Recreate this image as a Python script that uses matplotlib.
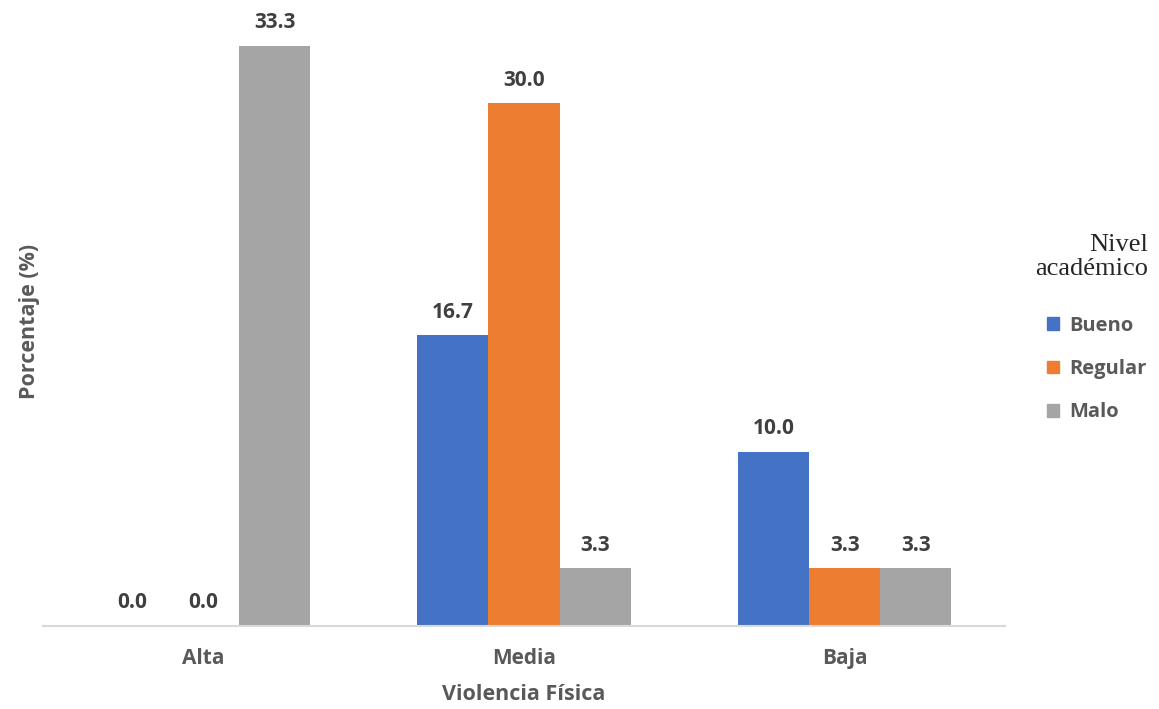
import numpy as np
import matplotlib.pyplot as plt
from matplotlib.patches import Patch

categorias = ['Alta', 'Media', 'Baja']
series = ['Bueno', 'Regular', 'Malo']
bueno = [0.0, 16.7, 10.0]
regular = [0.0, 30.0, 3.3]
malo = [33.3, 3.3, 3.3]
colores = ['#4472C4', '#ED7D31', '#A5A5A5']

plt.rcParams['font.family'] = ['Open Sans', 'DejaVu Sans']

fig = plt.figure(figsize=(11.59, 7.09), dpi=100)
ax = fig.add_axes([0.0371, 0.1171, 0.830, 0.860])

x = np.arange(len(categorias))
w = 0.222
for i, (vals, col) in enumerate(zip([bueno, regular, malo], colores)):
    bars = ax.bar(x + (i - 1) * w, vals, width=w, color=col, label=series[i])
    for b, v in zip(bars, vals):
        ax.annotate(f'{v:.1f}', (b.get_x() + b.get_width() / 2, v),
                    xytext=(0, 9), textcoords='offset points',
                    ha='center', va='bottom', fontsize=15,
                    fontweight='bold', color='#404040')

ax.set_xlim(-0.5, 2.5)
ax.set_ylim(0, 35)
ax.set_xticks(x)
ax.set_xticklabels(categorias, fontsize=15, fontweight='bold', color='#595959')
ax.tick_params(axis='x', length=0, pad=16)
ax.set_yticks([])
for s in ['top', 'right', 'left']:
    ax.spines[s].set_visible(False)
ax.spines['bottom'].set_color('#D9D9D9')
ax.spines['bottom'].set_linewidth(1.5)

ax.set_xlabel('Violencia Física', fontsize=15.5, fontweight='bold',
              color='#595959', labelpad=11)
ax.set_ylabel('Porcentaje (%)', fontsize=15.5, fontweight='bold',
              color='#595959', labelpad=2)

# legend title in serif, right aligned
fig.text(0.991, 0.6375, 'Nivel\nacadémico', ha='right', va='center',
         fontsize=19, family='Liberation Serif', color='#262626',
         linespacing=1.15, multialignment='right')

handles = [Patch(color=c) for c in colores]
leg = fig.legend(handles, series, loc='upper left',
                 bbox_to_anchor=(0.888, 0.580), frameon=False,
                 handlelength=0.6, handleheight=0.6, handletextpad=0.5,
                 labelspacing=1.15, prop={'size': 14.5, 'weight': 'bold'})
for t in leg.get_texts():
    t.set_color('#595959')

fig.savefig('out.png', dpi=100)
